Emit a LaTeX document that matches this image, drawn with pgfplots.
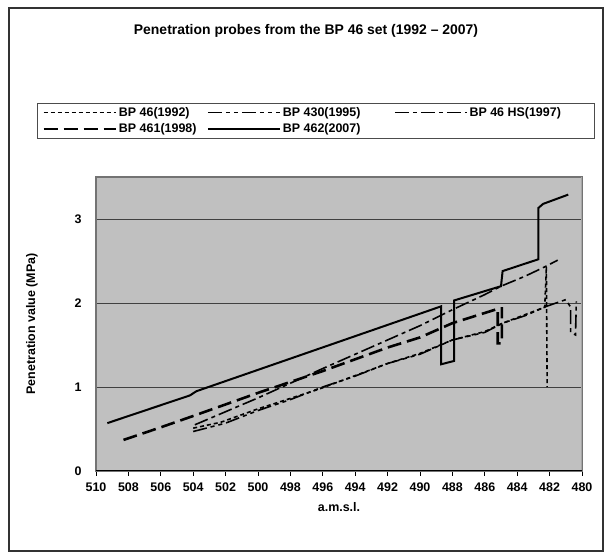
\documentclass[border=0pt]{standalone}
\usepackage{fontspec}
\setmainfont{Liberation Sans}
\usepackage{pgfplots}
\pgfplotsset{compat=1.18}
\definecolor{plotbg}{HTML}{C0C0C0}
\definecolor{gridc}{HTML}{404040}
\newcommand{\lbl}{\fontsize{12.5}{14}\selectfont\bfseries}
\newcommand{\ttl}{\fontsize{14}{16}\selectfont\bfseries}

\begin{document}
\begin{tikzpicture}[font=\lbl]
\path[use as bounding box] (0bp,0bp) rectangle (611bp,560bp);
% chart frame and title
\draw[line width=1.2bp, black!80] (9bp,9bp) rectangle (603bp,552bp);
\node[font=\ttl] at (306bp,529bp) {Penetration probes from the BP 46 set (1992 -- 2007)};

\begin{axis}[
  at={(96bp,89bp)}, anchor=south west,
  scale only axis, width=486bp, height=294bp,
  x dir=reverse, xmin=480, xmax=510, ymin=0, ymax=3.5,
  xtick={480,482,...,510}, ytick={0,1,2,3},
  xtick pos=left, tick align=outside,
  major tick length=5bp,
  x tick style={black, line width=0.8bp},
  y tick style={draw=none},
  /pgf/number format/assume math mode=true,
  /pgf/number format/1000 sep={},
  tick label style={font=\lbl},
  xticklabel style={yshift=-3bp},
  yticklabel style={xshift=-6bp},
  axis background/.style={fill=plotbg},
  axis line style={draw=black!55, line width=1.5bp},
  ymajorgrids, grid style={gridc, line width=0.8bp},
  xlabel={a.m.s.l.},
  xlabel style={at={(axis description cs:0.5,-0.122)}, anchor=center, font=\lbl},
  ylabel={Penetration value (MPa)},
  ylabel style={at={(axis description cs:-0.132,0.5)}, anchor=center, font=\lbl},
  legend columns=3,
  legend cell align=left,
  legend image code/.code={\draw[#1] (0bp,0bp) -- (72bp,0bp);},
  legend style={at={(axis description cs:-0.1214,1.2517)}, anchor=north west,
    draw=black!70, line width=0.8bp, fill=white, font=\lbl,
    inner xsep=5bp, inner ysep=2bp,
    /tikz/row sep=2bp,
    /tikz/every even column/.append style={column sep=4bp}},
]
% BP 46 (1992)
\addplot[black, line width=1.6bp, dash pattern=on 4bp off 3bp] coordinates {
 (504.0,0.51) (502.3,0.58) (500,0.74) (496.3,0.97) (492,1.28) (490,1.40)
 (488,1.56) (486,1.66) (484.9,1.76) (482.3,1.95) (482.2,2.43) (482.15,1.00)};
\addlegendentry{\makebox[82bp][l]{BP 46(1992)}}
% BP 430 (1995)
\addplot[black, line width=1.6bp, dash pattern=on 14bp off 4bp on 4bp off 4bp on 4bp off 4bp] coordinates {
 (504,0.47) (502,0.57) (500,0.72) (498,0.85) (496,1.00) (494,1.13) (492,1.28)
 (490,1.39) (488,1.56) (486,1.65) (484.9,1.76) (483.5,1.85) (482.2,1.96)
 (481,2.04) (480.7,1.95) (480.7,1.65) (480.4,1.62) (480.35,2.02)};
\addlegendentry{\makebox[105bp][l]{BP 430(1995)}}
% BP 46 HS (1997)
\addplot[black, line width=1.6bp, dash pattern=on 14bp off 4bp on 4bp off 4bp] coordinates {
 (503.9,0.55) (500,0.87) (496,1.22) (492,1.56) (490,1.73) (488,1.92)
 (486,2.10) (485,2.20) (483.5,2.32) (482.3,2.43) (481.5,2.51)};
\addlegendentry{\makebox[118bp][l]{BP 46 HS(1997)}}
% BP 461 (1998)
\addplot[black, line width=2.6bp, dash pattern=on 14bp off 6bp] coordinates {
 (508.3,0.37) (506,0.52) (504,0.655) (500,0.93) (496,1.19) (492,1.47)
 (490,1.59) (488,1.76) (485.2,1.93) (485.2,1.52) (484.95,1.52) (484.95,1.95)};
\addlegendentry{\makebox[82bp][l]{BP 461(1998)}}
% BP 462 (2007)
\addplot[black, line width=2bp] coordinates {
 (509.3,0.57) (504.2,0.90) (503.8,0.95) (488.7,1.96) (488.7,1.27) (487.9,1.31)
 (487.9,2.03) (485.0,2.20) (484.9,2.38) (482.7,2.52) (482.7,3.13) (482.4,3.18)
 (480.85,3.29)};
\addlegendentry{\makebox[105bp][l]{BP 462(2007)}}
% axis edges: black baseline, lighter right edge
\draw[black!35, line width=2bp] (rel axis cs:1,0) -- (rel axis cs:1,1);
\draw[black, line width=1bp] (rel axis cs:0,0) -- (rel axis cs:1,0);
\end{axis}
\end{tikzpicture}
\end{document}
